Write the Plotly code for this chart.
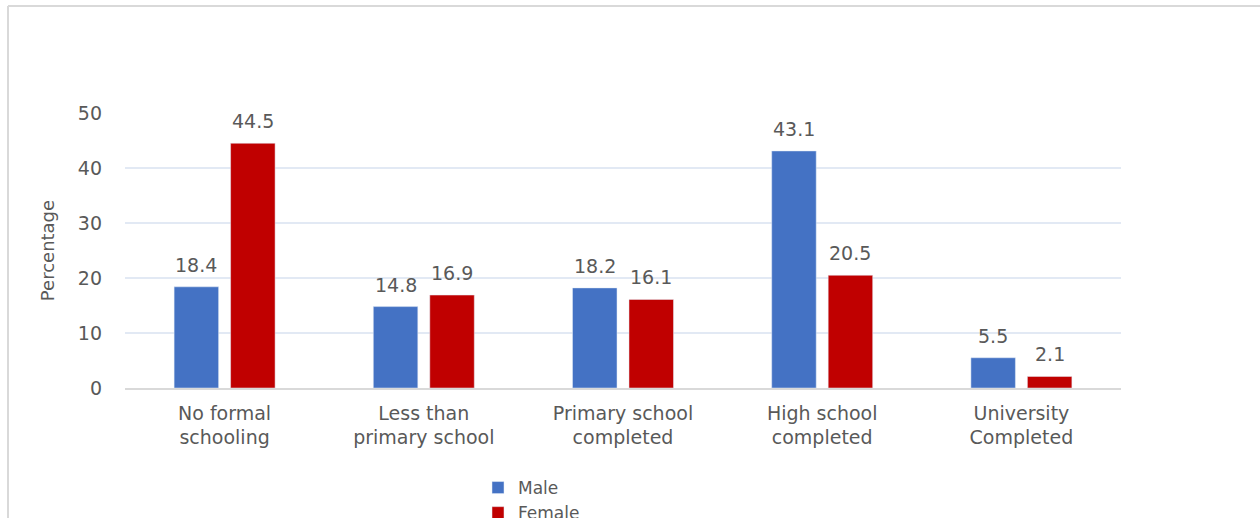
import plotly.graph_objects as go

categories = ["No formal<br>schooling", "Less than<br>primary school", "Primary school<br>completed",
              "High school<br>completed", "University<br>Completed"]
male = [18.4, 14.8, 18.2, 43.1, 5.5]
female = [44.5, 16.9, 16.1, 20.5, 2.1]
y_ticks = [0, 10, 20, 30, 40, 50]

MALE_COLOR = "#4472C4"
FEMALE_COLOR = "#C00000"
TEXT_COLOR = "#595959"
FONT = "DejaVu Sans"

fig = go.Figure()
fig.add_trace(go.Bar(name="Male", x=categories, y=male, marker_color=MALE_COLOR))
fig.add_trace(go.Bar(name="Female", x=categories, y=female, marker_color=FEMALE_COLOR))

# value labels above each bar, offset to the bar's slot within the group
for values, shift in ((male, -28.2), (female, 28.2)):
    for cat, v in zip(categories, values):
        fig.add_annotation(x=cat, y=v, text=f"{v:.1f}", showarrow=False,
                           xref="x", yref="y", xanchor="center", yanchor="bottom",
                           xshift=shift, yshift=9,
                           font=dict(family=FONT, size=19, color=TEXT_COLOR))

# outer frame of the chart area (top and left edges)
L, T, W, H = 125, 113, 996, 275
def px(x):
    return (x - L) / W
def py(y):
    return (T + H - y) / H
fig.add_shape(type="line", xref="paper", yref="paper", x0=px(8), x1=px(1262), y0=py(6), y1=py(6),
              line=dict(color="#d9d9d9", width=2))
fig.add_shape(type="line", xref="paper", yref="paper", x0=px(8), x1=px(8), y0=py(6), y1=py(520),
              line=dict(color="#d9d9d9", width=2))

fig.update_layout(
    width=1260, height=518,
    margin=dict(l=L, r=1260 - L - W, t=T, b=518 - T - H, autoexpand=False),
    paper_bgcolor="white", plot_bgcolor="white",
    barmode="group", bargap=0.433, bargroupgap=0.212,
    font=dict(family=FONT, size=19, color=TEXT_COLOR),
    showlegend=True,
    legend=dict(orientation="v", x=px(478), xanchor="left", y=py(470), yanchor="top",
                font=dict(family=FONT, size=17, color=TEXT_COLOR),
                bgcolor="rgba(0,0,0,0)", tracegroupgap=0),
    xaxis=dict(showline=True, linecolor="#d9d9d9", linewidth=1.5, showgrid=False,
               ticks="", ticklabelstandoff=7,
               tickfont=dict(family=FONT, size=19, color=TEXT_COLOR)),
    yaxis=dict(range=[0, 50], tickvals=y_ticks, showgrid=True, gridcolor="#e2e9f4", gridwidth=1.5,
               zeroline=False, showline=False, ticks="", ticklabelstandoff=22,
               tickfont=dict(family=FONT, size=19, color=TEXT_COLOR),
               title=dict(text="Percentage", standoff=18,
                          font=dict(family=FONT, size=18, color=TEXT_COLOR))),
)

fig.write_html("out.html")
